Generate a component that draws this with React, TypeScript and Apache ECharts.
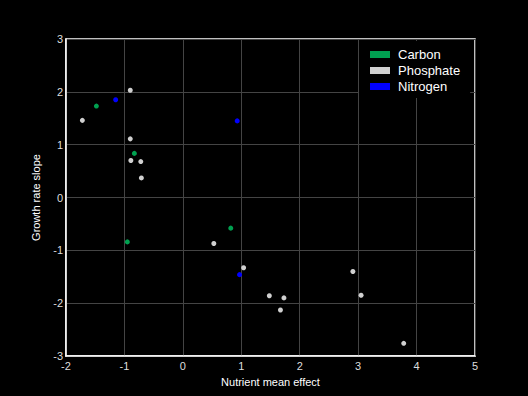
import React, { useEffect, useRef } from "react";
import * as echarts from "echarts";

const seriesNames = ["Carbon", "Phosphate", "Nitrogen"];
const seriesColors = ["#00a050", "#d0d0d0", "#0000ff"];

const carbonPoints: [number, number][] = [
  [-1.48, 1.73],
  [-0.83, 0.835],
  [-0.95, -0.84],
  [0.82, -0.58],
];

const phosphatePoints: [number, number][] = [
  [-0.9, 2.03],
  [-1.72, 1.46],
  [-0.9, 1.11],
  [-0.89, 0.7],
  [-0.72, 0.68],
  [-0.71, 0.37],
  [0.53, -0.87],
  [1.04, -1.33],
  [1.48, -1.86],
  [1.73, -1.9],
  [1.67, -2.13],
  [2.91, -1.4],
  [3.05, -1.85],
  [3.78, -2.76],
];

const nitrogenPoints: [number, number][] = [
  [-1.15, 1.85],
  [0.93, 1.45],
  [0.97, -1.46],
];

const xMin = -2;
const xMax = 5;
const yMin = -3;
const yMax = 3;

export default function App() {
  const ref = useRef<HTMLDivElement>(null);
  useEffect(() => {
    if (!ref.current) return;
    const chart = echarts.init(ref.current, undefined, { renderer: "svg" });
    const font = "'Liberation Sans', Arial, sans-serif";
    const allData = [carbonPoints, phosphatePoints, nitrogenPoints];
    chart.setOption({
      animation: false,
      backgroundColor: "#000",
      textStyle: { fontFamily: font },
      grid: {
        left: 66,
        right: 53,
        top: 39,
        bottom: 40,
        show: true,
        borderColor: "#fff",
        borderWidth: 1.5,
        backgroundColor: "#000",
      },
      legend: {
        orient: "vertical",
        left: 359,
        top: 41,
        padding: [6, 10, 4, 11],
        itemGap: 1,
        itemWidth: 20,
        itemHeight: 7,
        icon: "rect",
        backgroundColor: "#000",
        data: seriesNames,
        itemStyle: { opacity: 1 },
        textStyle: {
          color: "#fff",
          fontSize: 13,
          lineHeight: 15,
          fontFamily: font,
          padding: [0, 0, 0, 3],
        },
      },
      xAxis: {
        type: "value",
        min: xMin,
        max: xMax,
        interval: 1,
        name: "Nutrient mean effect",
        nameLocation: "middle",
        nameGap: 20,
        nameTextStyle: { color: "#fff", fontSize: 11, fontFamily: font },
        axisLine: { show: true, onZero: false, lineStyle: { color: "#fff", width: 1.5 } },
        axisTick: { show: false },
        axisLabel: { color: "#ddd", fontSize: 11, margin: 4, fontFamily: font },
        splitLine: { show: true, lineStyle: { color: "#444", width: 1 } },
      },
      yAxis: {
        type: "value",
        min: yMin,
        max: yMax,
        interval: 1,
        name: "Growth rate slope",
        nameLocation: "middle",
        nameGap: 25,
        nameTextStyle: { color: "#fff", fontSize: 11, fontFamily: font },
        axisLine: { show: true, onZero: false, lineStyle: { color: "#fff", width: 1.5 } },
        axisTick: { show: false },
        axisLabel: { color: "#ddd", fontSize: 11, margin: 3, fontFamily: font },
        splitLine: { show: true, lineStyle: { color: "#444", width: 1 } },
      },
      series: seriesNames.map((name, i) => ({
        name,
        type: "scatter",
        data: allData[i],
        symbolSize: 5,
        itemStyle: { color: seriesColors[i], opacity: 1 },
      })),
    });
    return () => chart.dispose();
  }, []);
  return (
    <div
      style={{
        position: "fixed",
        left: 0,
        top: 0,
        width: 528,
        height: 396,
        background: "#000",
        boxSizing: "border-box",
        border: "1px solid #333",
      }}
    >
      <div ref={ref} style={{ position: "absolute", left: -1, top: -1, width: 528, height: 396 }} />
    </div>
  );
}
